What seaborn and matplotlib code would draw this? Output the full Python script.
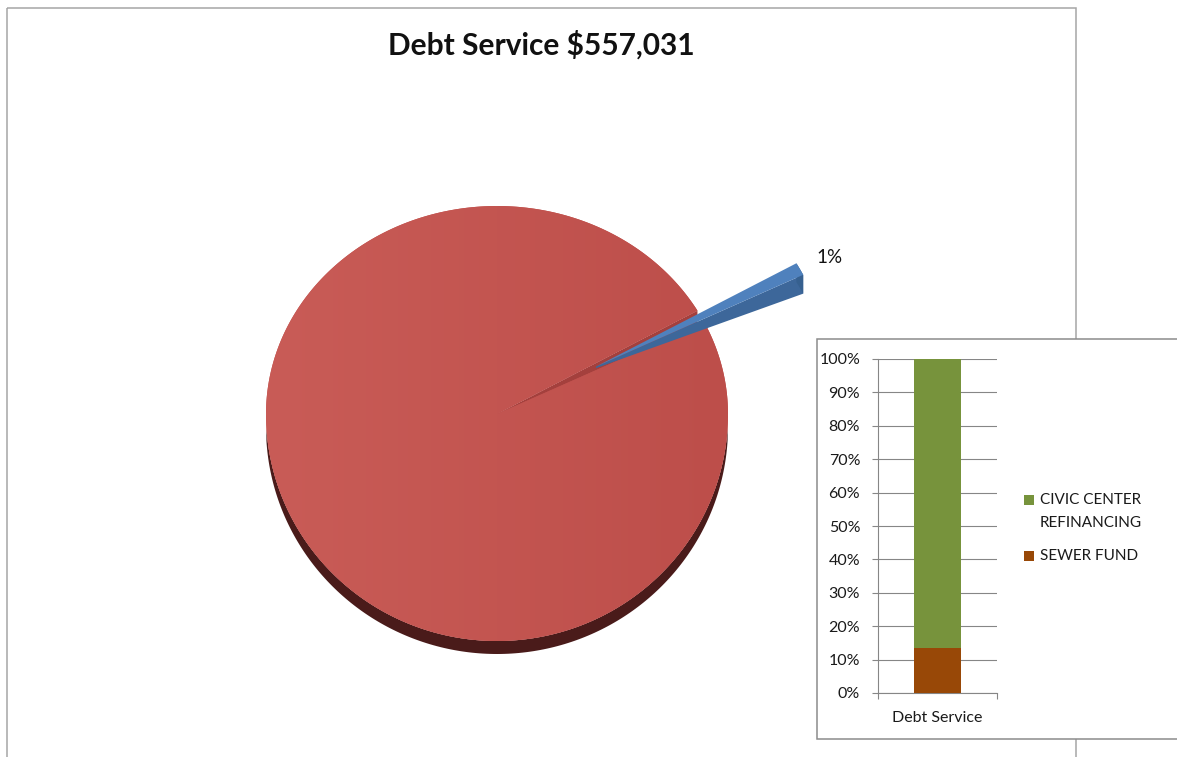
import numpy as np
import pandas as pd
import matplotlib
matplotlib.use("Agg")
import matplotlib.pyplot as plt
from matplotlib.patches import Polygon, Rectangle
from matplotlib.colors import LinearSegmentedColormap
import seaborn as sns

# ---------------- data ----------------
chart_title = "Debt Service $557,031"
pie_shares = [99, 1]                      # rest of budget, debt service
pie_explode = [0.0, 0.485]
fund_names = ["CIVIC CENTER\nREFINANCING", "SEWER FUND"]
fund_shares = [86.5, 13.5]
bar_category = ["Debt Service"]
pct_ticks = list(range(0, 101, 10))

# ---------------- style ----------------
sns.set_theme(style="white")
plt.rcParams["font.family"] = ["Lato", "DejaVu Sans"]

W, H = 1177, 757
fig = plt.figure(figsize=(W / 100, H / 100), dpi=100)
fig.patch.set_facecolor("white")

# full-figure canvas in pixel units
ax = fig.add_axes([0, 0, 1, 1])
ax.set_xlim(0, W)
ax.set_ylim(H, 0)
ax.axis("off")

# outer chart frame (runs off the bottom edge)
ax.add_patch(Rectangle((7, 8), 1069, 800, fill=False, edgecolor="#A6A6A6",
                       lw=1.1, zorder=0.5))

ax.text(541.5, 45, chart_title, ha="center", va="center", fontsize=21.5,
        fontweight="bold", color="#111111")

# ---------------- 3-D pie ----------------
cx, cy = 497, 414
rx, ry_up, ry_dn = 231, 208, 227
depth = 13
start_deg = 29.8

pie_top = ["#C0504D", "#4F81BD"]
pie_edge = ["#A4403D", "#3D679A"]
pie_side = ["#4A1B1A", "#36608F"]
edge_depth = [2.0, 1.45]


def rim(t_deg, r=1.0, off=(0.0, 0.0)):
    t = np.radians(np.atleast_1d(t_deg))
    ry = np.where(np.sin(t) >= 0, ry_up, ry_dn)
    return np.column_stack([cx + off[0] + rx * r * np.cos(t),
                            cy + off[1] - ry * r * np.sin(t)])


total = float(sum(pie_shares))
spans = [360.0 * s / total for s in pie_shares]
bounds = np.concatenate([[0.0], np.cumsum(spans)]) + start_deg

grad_cmap = LinearSegmentedColormap.from_list("redshade", ["#C95C57", "#BD4E4A"])

for i, (a0, a1) in enumerate(zip(bounds[:-1], bounds[1:])):
    mid = np.radians((a0 + a1) / 2)
    e = pie_explode[i]
    ry_mid = ry_up if np.sin(mid) >= 0 else ry_dn
    off = (rx * e * np.cos(mid), -ry_mid * e * np.sin(mid))
    apex = np.array([cx + off[0], cy + off[1]])
    base_z = 1 + 3 * i
    d = depth * edge_depth[i]

    # radial face along the starting edge
    p0 = rim(a0, off=off)[0]
    ax.add_patch(Polygon([apex, p0, p0 + [0, d], apex + [0, 1.5]],
                         closed=True, facecolor=pie_edge[i], edgecolor="none",
                         zorder=base_z))

    # outer curved face (front part of the slice)
    ts = np.linspace(a0, a1, 400)
    front = ts if e > 0 else ts[np.sin(np.radians(ts)) <= -0.05]
    dd = d if e > 0 else depth
    if len(front) > 1:
        top_arc = rim(front, off=off)
        low_arc = top_arc + [0, dd]
        ax.add_patch(Polygon(np.vstack([top_arc, low_arc[::-1]]), closed=True,
                             facecolor=pie_side[i], edgecolor="none",
                             zorder=base_z + 0.5))

    # top face
    top_pts = np.vstack([apex, rim(ts, off=off)])
    top = Polygon(top_pts, closed=True, facecolor=pie_top[i], edgecolor="none",
                  zorder=base_z + 1)
    ax.add_patch(top)
    if i == 0:
        grad = np.linspace(0, 1, 256)[None, :]
        im = ax.imshow(grad, extent=[cx - rx, cx + rx, cy + ry_dn, cy - ry_up],
                       cmap=grad_cmap, aspect="auto", interpolation="bilinear",
                       zorder=base_z + 1.1)
        im.set_clip_path(top)

    if e > 0:
        lx, ly = rim((a0 + a1) / 2, r=1.63)[0]
        ax.text(lx, ly + 3, f"{pie_shares[i] / total * 100:.0f}%", ha="center",
                va="center", fontsize=13.5, color="#111111", zorder=10)

ax.set_xlim(0, W)
ax.set_ylim(H, 0)

# ---------------- inset stacked bar ----------------
ax.add_patch(Rectangle((817, 339), 420, 400, facecolor="white",
                       edgecolor="#8C8C8C", lw=1.1, zorder=20))

bx = fig.add_axes([878 / W, 1 - 693 / H, (997 - 878) / W, (693 - 359) / H])
bx.set_zorder(5)
bx.patch.set_alpha(0)

green, brown = "#77933C", "#984807"
stack_top = [sum(fund_shares)]
sns.barplot(x=bar_category, y=stack_top, color=green, width=0.4,
            saturation=1, linewidth=0, ax=bx, zorder=3)
sns.barplot(x=bar_category, y=[fund_shares[1]], color=brown, width=0.4,
            saturation=1, linewidth=0, ax=bx, zorder=3)

bx.set_xlim(-0.5, 0.5)
bx.set_ylim(0, 100)
bx.set_yticks(pct_ticks)
bx.set_yticklabels([f"{v}%" for v in pct_ticks])
bx.yaxis.grid(True, color="#868686", lw=0.8)
bx.set_axisbelow(True)
bx.tick_params(axis="y", left=True, length=4.3, width=0.8, color="#868686",
               pad=8.5, labelsize=11.5, labelcolor="#1A1A1A")
bx.set_xticks([0])
bx.set_xticklabels(bar_category)
bx.set_xticks([-0.5, 0.5], minor=True)
bx.tick_params(axis="x", which="major", length=0, pad=13, labelsize=11.5,
               labelcolor="#1A1A1A")
bx.tick_params(axis="x", which="minor", bottom=True, length=4.3, width=0.8,
               color="#868686")
bx.set_xlabel("")
bx.set_ylabel("")
for side in ("top", "right"):
    bx.spines[side].set_visible(False)
for side in ("left", "bottom"):
    bx.spines[side].set_color("#868686")
    bx.spines[side].set_linewidth(0.8)

# legend entries, listed top to bottom
legend_colors = [green, brown]
legend_y = [500, 556]
for name, col, y in zip(fund_names, legend_colors, legend_y):
    ax.add_patch(Rectangle((1024, y - 5), 10, 10, facecolor=col,
                           edgecolor="none", zorder=21))
    ax.text(1040, y - 7.5, name, ha="left", va="top", fontsize=11,
            color="#1A1A1A", linespacing=1.85, zorder=21)

fig.savefig("out.png", dpi=100, facecolor="white")
